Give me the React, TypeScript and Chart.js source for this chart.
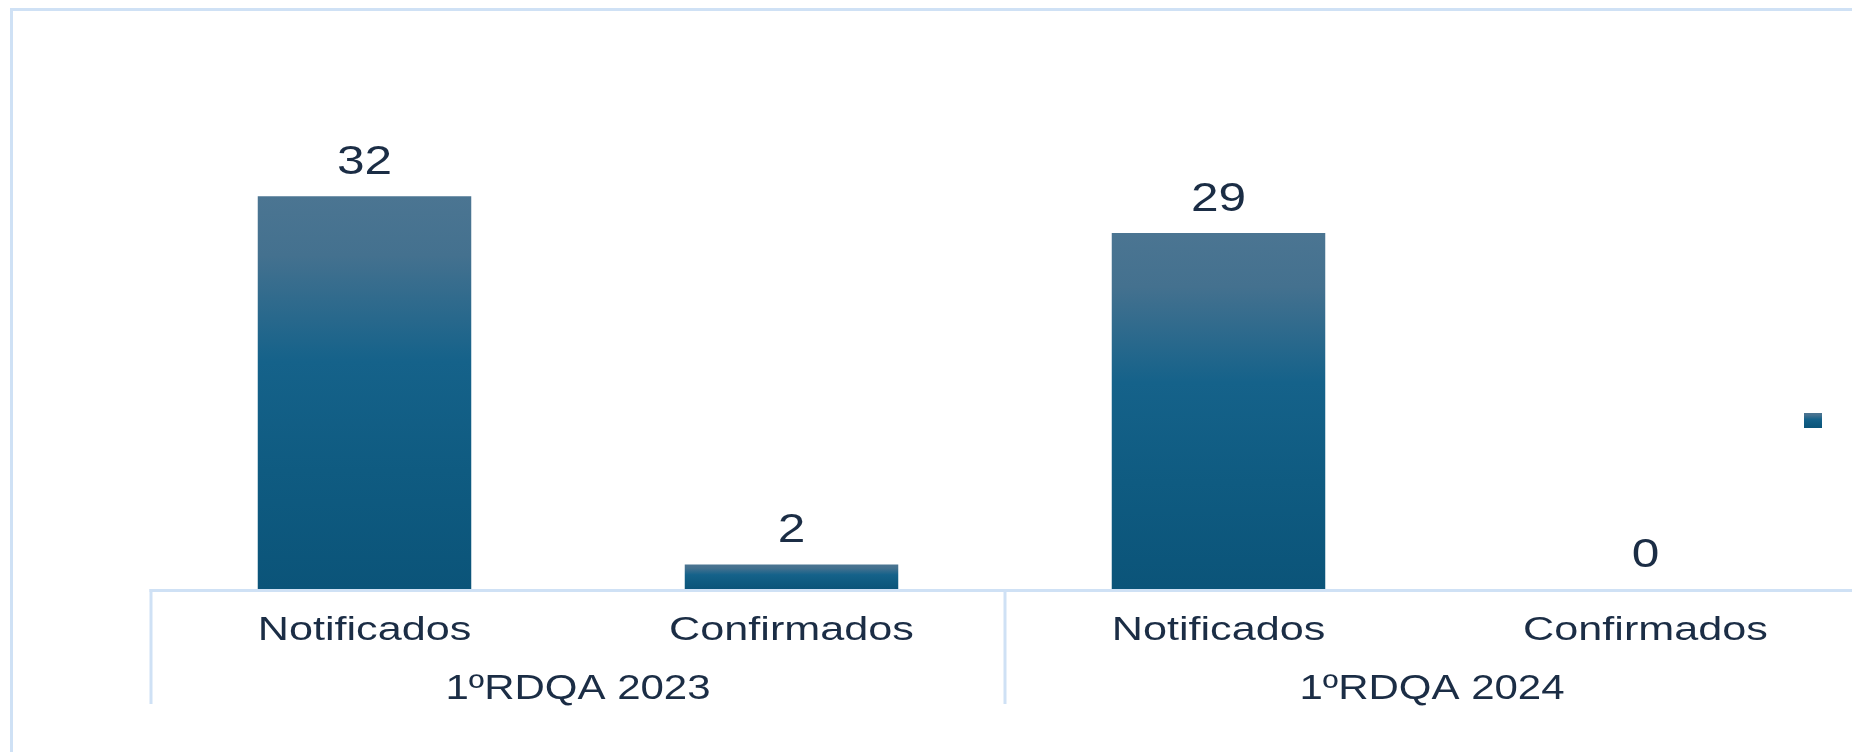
import React, { useEffect, useRef } from "react";
import { Chart, registerables } from "chart.js";

Chart.register(...registerables);

// ---- data ----
const categories = ["Notificados", "Confirmados", "Notificados", "Confirmados"];
const groups = ["1ºRDQA 2023", "1ºRDQA 2024"];
const values = [32, 2, 29, 0];
const legendLabels = ["Série1"];

const TEXT = "#1b2d45";
const LINE = "#cfe1f5";
const FONT = '"Liberation Sans", Arial, sans-serif';

function barGradient(ctx: CanvasRenderingContext2D, top: number, bot: number) {
  const g = ctx.createLinearGradient(0, top, 0, bot);
  g.addColorStop(0, "#4b7592");
  g.addColorStop(0.15, "#44718f");
  g.addColorStop(0.42, "#15628a");
  g.addColorStop(0.7, "#0f5b81");
  g.addColorStop(1, "#0b5479");
  return g;
}

function stretchedText(
  ctx: CanvasRenderingContext2D,
  text: string,
  cx: number,
  baseY: number,
  size: number,
  sx: number
) {
  ctx.save();
  ctx.translate(cx, baseY);
  ctx.scale(sx, 1);
  ctx.font = `${size}px ${FONT}`;
  ctx.fillStyle = TEXT;
  ctx.textAlign = "center";
  ctx.textBaseline = "alphabetic";
  ctx.fillText(text, 0, 0);
  ctx.restore();
}

const decor = {
  id: "decor",
  beforeDraw(chart: any) {
    const ctx = chart.ctx as CanvasRenderingContext2D;
    ctx.save();
    ctx.strokeStyle = LINE;
    ctx.lineWidth = 3;
    ctx.strokeRect(11.5, 9.5, chart.width + 200, chart.height + 200);
    ctx.restore();
  },
  afterDatasetsDraw(chart: any) {
    const ctx = chart.ctx as CanvasRenderingContext2D;
    const x = chart.scales.x;
    const y = chart.scales.y;
    const base = y.getPixelForValue(0);
    const step = x.getPixelForValue(1) - x.getPixelForValue(0);
    const left = x.getPixelForValue(0) - step / 2;
    const right = x.getPixelForValue(categories.length - 1) + step / 2;

    ctx.save();
    ctx.strokeStyle = LINE;
    ctx.lineWidth = 3;
    ctx.beginPath();
    ctx.moveTo(left - 1.5, base + 1.5);
    ctx.lineTo(right + 1.5, base + 1.5);
    ctx.stroke();
    const perGroup = categories.length / groups.length;
    for (let k = 0; k <= groups.length; k++) {
      const gx = left + k * perGroup * step;
      ctx.beginPath();
      ctx.moveTo(gx, base);
      ctx.lineTo(gx, base + 115);
      ctx.stroke();
    }
    ctx.restore();

    // category tick labels
    categories.forEach((c, i) => {
      stretchedText(ctx, c, x.getPixelForValue(i), base + 51, 34, 1.27);
    });
    // group labels
    groups.forEach((g, k) => {
      const cx = left + (k + 0.5) * perGroup * step;
      stretchedText(ctx, g, cx, base + 110, 35, 1.2);
    });
    // value labels
    values.forEach((v, i) => {
      const top = y.getPixelForValue(v);
      stretchedText(ctx, String(v), x.getPixelForValue(i), top - 22, 41, 1.21);
    });

    // legend marker (label lies outside the visible area)
    const lx = right - 55;
    const ly = 413;
    ctx.save();
    ctx.fillStyle = barGradient(ctx, ly, ly + 15);
    ctx.fillRect(lx, ly, 18, 15);
    ctx.font = `28px ${FONT}`;
    ctx.fillStyle = TEXT;
    ctx.textBaseline = "middle";
    ctx.fillText(legendLabels[0], right + 10, ly + 8);
    ctx.restore();
  },
};

export default function App() {
  const ref = useRef<HTMLCanvasElement | null>(null);

  useEffect(() => {
    if (!ref.current) return;
    const chart = new Chart(ref.current, {
      type: "bar",
      data: {
        labels: categories,
        datasets: [
          {
            label: legendLabels[0],
            data: values,
            backgroundColor: (c: any) => {
              const ch = c.chart;
              if (!ch.chartArea || c.type !== "data") return "#145f86";
              const ys = ch.scales.y;
              const top = ys.getPixelForValue(values[c.dataIndex]);
              const bot = ys.getPixelForValue(0);
              if (bot - top < 1) return "#145f86";
              return barGradient(ch.ctx, top, bot);
            },
            borderWidth: 0,
            barPercentage: 0.5,
            categoryPercentage: 1,
          },
        ],
      },
      options: {
        responsive: false,
        animation: false,
        devicePixelRatio: 1,
        layout: { padding: { left: 151, right: 41, top: 98, bottom: 163 } },
        plugins: {
          legend: { display: false },
          tooltip: { enabled: false },
        },
        scales: {
          x: { display: false, offset: true },
          y: { display: false, min: 0, max: 40 },
        },
      },
      plugins: [decor],
    });
    return () => chart.destroy();
  }, []);

  return (
    <div
      style={{
        position: "fixed",
        left: 0,
        top: 0,
        width: 1852,
        height: 752,
        overflow: "hidden",
        background: "#ffffff",
      }}
    >
      <canvas
        ref={ref}
        width={1900}
        height={752}
        style={{ display: "block", width: 1900, height: 752 }}
      />
    </div>
  );
}
